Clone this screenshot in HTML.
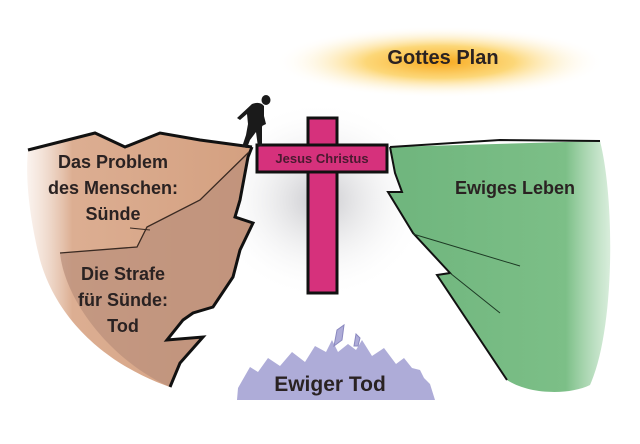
<!DOCTYPE html>
<html><head><meta charset="utf-8"><style>
html,body{margin:0;padding:0;background:#fff;}
svg{display:block;}
text{font-family:"Liberation Sans",Arial,sans-serif;font-weight:bold;fill:#2a2222;}
</style></head><body>
<svg width="640" height="444" viewBox="0 0 640 444" xmlns="http://www.w3.org/2000/svg">
<defs>
<radialGradient id="sun" cx="0.5" cy="0.5" r="0.5">
<stop offset="0" stop-color="#f8a81c"/>
<stop offset="0.45" stop-color="#fcd060" stop-opacity="0.85"/>
<stop offset="1" stop-color="#fff" stop-opacity="0"/>
</radialGradient>
<radialGradient id="shade" cx="0.5" cy="0.5" r="0.5">
<stop offset="0" stop-color="#c8c8cc"/>
<stop offset="1" stop-color="#fff" stop-opacity="0"/>
</radialGradient>
<filter id="blur"><feGaussianBlur stdDeviation="8"/></filter>
<linearGradient id="brownL" x1="0" x2="1" y1="0" y2="0">
<stop offset="0" stop-color="#efd6c6" stop-opacity="0.3"/>
<stop offset="0.2" stop-color="#dcae92"/>
<stop offset="1" stop-color="#d4a080"/>
</linearGradient>
<linearGradient id="greenR" x1="0" x2="1" y1="0" y2="0">
<stop offset="0" stop-color="#6fb57d"/>
<stop offset="0.8" stop-color="#7cbf87"/>
<stop offset="1" stop-color="#9ed2a6" stop-opacity="0.4"/>
</linearGradient>
</defs>
<ellipse cx="440" cy="62" rx="165" ry="36" fill="url(#sun)"/>
<ellipse cx="320" cy="200" rx="110" ry="100" fill="url(#shade)"/>
<!-- left cliff -->
<path d="M28,150 L95,133 L125,147 L160,133 L200,140 L252,147 L248,157 L240,200 L235,217 L253,223 L240,250 L233,277 L213,307 L193,313 L183,320 L167,340 L203,337 L180,363 L170,387 C120,370 60,330 40,260 C30,220 25,180 28,150 Z" fill="url(#brownL)"/>
<path d="M248,152 L200,200 L147,227 L137,247 L60,253 C65,300 110,360 170,387 L180,363 L203,337 L167,340 L183,320 L193,313 L213,307 L233,277 L240,250 L253,223 L235,217 L240,200 Z" fill="#b98f7a" opacity="0.7"/>
<path d="M28,150 L95,133 L125,147 L160,133 L200,140 L252,147" fill="none" stroke="#111" stroke-width="3"/>
<path d="M252,147 L248,157 L240,200 L235,217 L253,223 L240,250 L233,277 L213,307 L193,313 L183,320 L167,340 L203,337 L180,363 L170,387" fill="none" stroke="#111" stroke-width="3"/>
<path d="M249,152 L200,200 L147,227 L137,247 L60,253" fill="none" stroke="#3a2a22" stroke-width="1.3"/>
<path d="M130,228 L150,230" stroke="#3a2a22" stroke-width="1"/>
<!-- right cliff -->
<path d="M390,147 L600,141 C615,200 615,330 590,385 C570,395 530,395 507,380 L437,275 L450,273 L413,233 L388,192 L402,192 L395,173 Z" fill="url(#greenR)"/>
<path d="M390,147 L500,140 L600,141" fill="none" stroke="#111" stroke-width="2"/>
<path d="M390,147 L395,173 L402,192 L388,192 L413,233 L450,273 L437,275 L507,380" fill="none" stroke="#111" stroke-width="2"/>
<path d="M413,234 L520,266 M450,273 L500,313" stroke="#1d3a24" stroke-width="1"/>
<!-- cross -->
<rect x="308" y="118" width="29" height="175" fill="#d6317c" stroke="#111" stroke-width="3"/>
<rect x="257" y="145" width="130" height="27" fill="#d6317c" stroke="#111" stroke-width="3"/>
<rect x="309.5" y="146.5" width="26" height="24" fill="#d6317c"/>
<text x="322" y="163" font-size="13" text-anchor="middle" style="fill:#4a1a30">Jesus Christus</text>
<!-- person -->
<g fill="#1a1a1a">
<ellipse cx="266" cy="100" rx="4.5" ry="5"/>
<path d="M252,104 Q260,101 264,106 L264,120 L262,127 L262,146 L258,147 L256,132 L250,140 L247,148 L242,147 L246,135 L248,124 L247,114 L240,120 L237,118 Z"/>
<path d="M262,108 L266,124 L262,126 Z"/>
</g>
<!-- purple mountains -->
<path d="M237,400 L238,388 L250,367 L258,372 L268,358 L280,366 L292,352 L305,362 L315,346 L326,352 L332,340 L338,352 L348,344 L356,350 L362,340 L372,356 L384,348 L396,364 L404,358 L412,368 L420,370 L424,378 L430,384 L435,400 Z" fill="#aeacd8"/>
<path d="M337,330 L344,325 L342,340 L334,346 Z M356,334 L360,338 L358,346 L354,346 Z" fill="#aeacd8" stroke="#8a88bf" stroke-width="1"/>
<text x="330" y="391" font-size="21" text-anchor="middle">Ewiger Tod</text>
<text x="443" y="64" font-size="20" text-anchor="middle">Gottes Plan</text>
<text x="515" y="194" font-size="18" text-anchor="middle">Ewiges Leben</text>
<g font-size="18" text-anchor="middle">
<text x="113" y="168">Das Problem</text>
<text x="113" y="194">des Menschen:</text>
<text x="113" y="220">Sünde</text>
<text x="123" y="280">Die Strafe</text>
<text x="123" y="306">für Sünde:</text>
<text x="123" y="332">Tod</text>
</g>
</svg>
</body></html>
